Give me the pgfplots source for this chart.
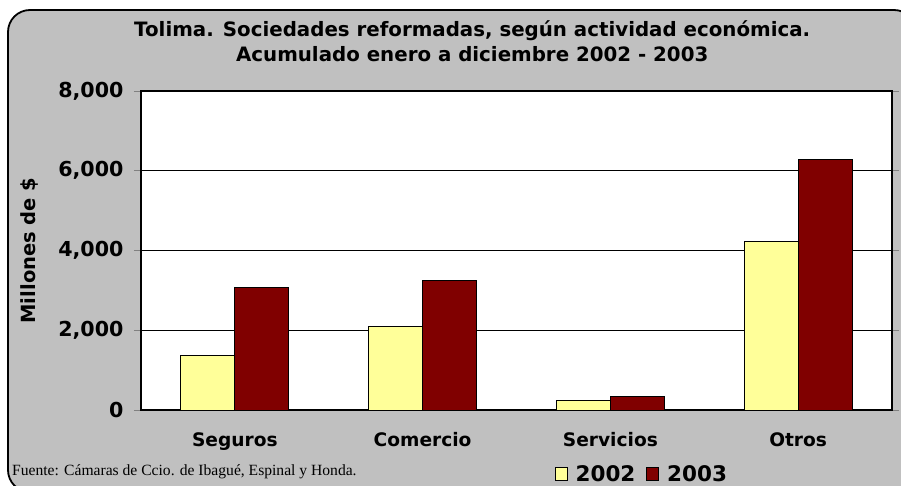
\documentclass[border=0pt]{standalone}
\usepackage{fontspec}
\setmainfont{DejaVu Sans}
\newfontfamily\srcfont{Liberation Serif}
\usepackage{pgfplots}
\pgfplotsset{compat=1.18}
\definecolor{bggray}{HTML}{C0C0C0}
\definecolor{barA}{HTML}{FFFF99}
\definecolor{barB}{HTML}{800000}

\begin{document}
\begin{tikzpicture}
% 1pt = 1 pixel of the reference; axis box lower left = (141,410)
\path[use as bounding box] (-141pt,-75pt) rectangle (760pt,410pt);
\fill[white] (-141pt,-75pt) rectangle (760pt,410pt);
\draw[line width=1.8pt, fill=bggray, rounded corners=22pt] (-133pt,-82pt) rectangle (775pt,400pt);

\begin{axis}[
    at={(0pt,0pt)}, anchor=south west,
    scale only axis,
    width=751pt, height=319pt,
    ybar=0pt,
    bar width=54pt,
    xmin=-0.5, xmax=3.5,
    ymin=0, ymax=8000,
    axis background/.style={fill=white},
    axis line style={line width=1.4pt},
    xtick={0,1,2,3},
    xticklabels={Seguros,Comercio,Servicios,Otros},
    x tick style={draw=none},
    extra x ticks={-0.5,0.5,1.5,2.5,3.5},
    extra x tick labels={},
    extra x tick style={tick style={draw=black, line width=1pt}, major tick length=7pt, tick align=outside},
    ytick={0,2000,4000,6000,8000},
    y tick style={line width=1pt},
    tick align=outside,
    major tick length=7pt,
    ymajorgrids=true,
    grid style={black, line width=1pt},
    /pgf/number format/1000 sep={,},
    /pgf/number format/assume math mode=true,
    y tick label style={font=\fontsize{20.6}{24}\selectfont\bfseries, xshift=-7pt},
    x tick label style={font=\fontsize{18.6}{22}\selectfont\bfseries, yshift=-12pt},
    ylabel={Millones de \$},
    every axis y label/.style={at={(rel axis cs:0,0.5)}, xshift=-111pt, rotate=90, anchor=center,
        font=\fontsize{19.5}{22}\selectfont\bfseries},
    legend style={draw=none, fill=none, at={(0.671,-0.2)}, anchor=center,
        legend columns=2, font=\fontsize{21.5}{24}\selectfont\bfseries,
        /tikz/every even column/.append style={column sep=3pt},
        nodes={inner xsep=8pt}},
    legend image code/.code={\draw[#1, line width=0.8pt] (0pt,-6.5pt) rectangle (12pt,6.5pt);},
    title={Tolima. Sociedades reformadas, según actividad económica.\\Acumulado enero a diciembre 2002 - 2003},
    title style={font=\fontsize{19.8}{25}\selectfont\bfseries, align=center,
        at={(rel axis cs:0.441,1)}, anchor=south, yshift=20pt},
]
\addplot[fill=barA, draw=black, line width=1pt] coordinates {(0,1360) (1,2085) (2,235) (3,4225)};
\addplot[fill=barB, draw=black, line width=1pt] coordinates {(0,3065) (1,3260) (2,350) (3,6275)};
\legend{2002,2003}
\end{axis}

\node[anchor=west, inner sep=0pt, font=\srcfont\fontsize{15.6}{18}\selectfont] at (-129pt,-62pt) {Fuente: Cámaras de Ccio. de Ibagué, Espinal y Honda.};
\end{tikzpicture}
\end{document}
